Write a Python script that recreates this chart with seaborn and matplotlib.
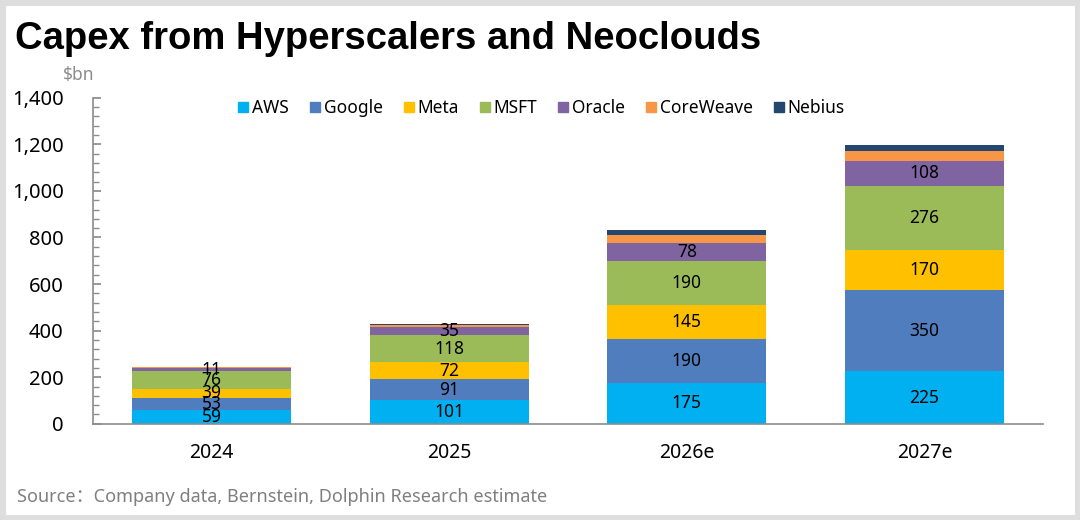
import matplotlib
import numpy as np
import pandas as pd
import seaborn as sns
matplotlib.use("Agg")
import matplotlib.pyplot as plt
from matplotlib.lines import Line2D
from matplotlib.patches import Rectangle
from matplotlib.ticker import MultipleLocator, FuncFormatter

years = ["2024", "2025", "2026e", "2027e"]
companies = ["AWS", "Google", "Meta", "MSFT", "Oracle", "CoreWeave", "Nebius"]
aws = [59, 101, 175, 225]
google = [53, 91, 190, 350]
meta = [39, 72, 145, 170]
msft = [76, 118, 190, 276]
oracle = [11, 35, 78, 108]
coreweave = [5, 8, 33, 42]
nebius = [1, 2, 20, 28]
labelled = ["AWS", "Google", "Meta", "MSFT", "Oracle"]

colors = ["#00B0F0", "#4F7DBD", "#FFC000", "#9BBB59", "#8064A2", "#F79646", "#23476F"]

sns.set_theme(style="white")
plt.rcParams["font.family"] = ["Noto Sans", "DejaVu Sans", "Noto Sans CJK SC"]
plt.rcParams["text.color"] = "black"
plt.rcParams["xtick.labelcolor"] = "black"
plt.rcParams["ytick.labelcolor"] = "black"

df = pd.DataFrame({"year": years, "AWS": aws, "Google": google, "Meta": meta,
                   "MSFT": msft, "Oracle": oracle, "CoreWeave": coreweave, "Nebius": nebius})
cum = df[companies].cumsum(axis=1)

fig = plt.figure(figsize=(10.8, 5.2), dpi=100)
ax = fig.add_axes([0.086, 0.185, 0.880, 0.627])

# stacked bars: draw cumulative totals from the top layer down
for name, col in reversed(list(zip(companies, colors))):
    sns.barplot(x=df["year"], y=cum[name], color=col, width=0.67,
                saturation=1, ax=ax, linewidth=0)

for i in range(len(years)):
    for name in labelled:
        val = df.loc[i, name]
        mid = cum.loc[i, name] - val / 2
        ax.text(i, mid, f"{val}", ha="center", va="center", fontsize=12.5, color="black")

ax.set_ylim(0, 1400)
ax.set_xlim(-0.5, 3.5)
ax.yaxis.set_major_locator(MultipleLocator(200))
ax.yaxis.set_minor_locator(MultipleLocator(40))
ax.yaxis.set_major_formatter(FuncFormatter(lambda v, p: f"{int(v):,}"))
ax.tick_params(axis="y", which="both", direction="in", left=True, color="#8c8c8c",
               labelsize=14.5, pad=21)
ax.tick_params(axis="y", which="major", length=6)
ax.tick_params(axis="y", which="minor", length=4)
ax.tick_params(axis="x", bottom=False, labelsize=14, pad=8)
ax.set_xlabel("")
ax.set_ylabel("")
for s in ["top", "right"]:
    ax.spines[s].set_visible(False)
for s in ["left", "bottom"]:
    ax.spines[s].set_color("#8c8c8c")
    ax.spines[s].set_linewidth(1.2)

handles = [Line2D([0], [0], marker="s", linestyle="", markersize=7,
                  markerfacecolor=c, markeredgecolor=c) for c in colors]
ax.legend(handles, companies, loc="upper center", bbox_to_anchor=(0.47, 1.045),
          ncol=7, frameon=False, fontsize=12.5, handletextpad=0.0,
          columnspacing=1.0, handlelength=1.0)

fig.text(0.014, 0.925, "Capex from Hyperscalers and Neoclouds", fontsize=27.5,
         fontweight="bold", ha="left", va="center", color="black",
         family=["Liberation Sans", "DejaVu Sans"])
fig.text(0.058, 0.855, "$bn", fontsize=12.5, color="#8c8c8c", ha="left", va="center")
fig.text(0.016, 0.045, "Source：Company data, Bernstein, Dolphin Research estimate",
         fontsize=13, color="#7f7f7f", ha="left", va="center",
         family=["Noto Sans", "Noto Sans CJK SC"])

fig.patches.append(Rectangle((0, 0), 1, 1, transform=fig.transFigure, fill=False,
                             edgecolor="#dedede", linewidth=8))

fig.savefig("out.png", dpi=100)
